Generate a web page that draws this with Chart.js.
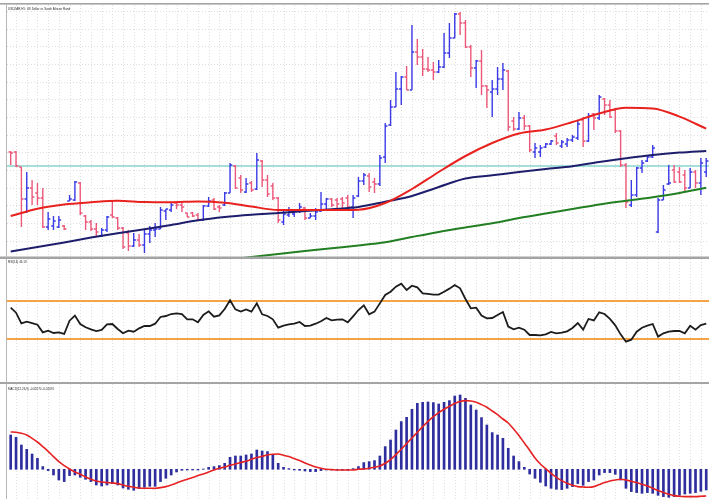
<!DOCTYPE html>
<html><head><meta charset="utf-8">
<script src="https://cdn.jsdelivr.net/npm/chart.js@4.4.1/dist/chart.umd.min.js"></script>
<style>
html,body{margin:0;padding:0;background:#fff;}
body{width:709px;height:499px;overflow:hidden;position:relative;}
canvas{position:absolute;left:0;}
</style></head><body>
<canvas id="main" width="709" height="258" style="top:0px"></canvas>
<canvas id="rsi" width="709" height="125" style="top:258px"></canvas>
<canvas id="macd" width="709" height="116" style="top:383px"></canvas>
<script>
// ---------- DATA ----------
const chartTitle = 'USDZAR,H1: US Dollar vs South African Rand';
const open = [14.48,14.48,14.33,14.01,14.12,14.07,14.02,13.73,13.74,13.73,
13.74,13.99,14.00,14.17,13.84,13.78,13.71,13.64,13.70,13.85,
13.82,13.72,13.67,13.54,13.60,13.55,13.66,13.70,13.71,13.89,
13.90,13.97,13.95,13.87,13.87,13.85,13.80,13.94,14.00,13.93,
13.95,14.07,14.34,14.22,14.08,14.17,14.11,14.39,14.20,14.14,
14.02,13.78,13.85,13.86,13.89,13.92,13.82,13.84,13.89,13.96,
14.01,14.00,14.01,14.02,13.93,14.04,14.19,14.24,14.18,14.16,
14.43,14.75,14.93,15.11,15.23,15.10,15.48,15.43,15.31,15.30,
15.28,15.33,15.47,15.62,15.86,15.77,15.53,15.32,15.39,15.14,
15.08,15.11,15.21,15.29,14.79,14.71,14.82,14.74,14.48,14.48,
14.53,14.56,14.64,14.54,14.56,14.60,14.62,14.80,14.59,14.86,
14.82,15.01,14.95,14.90,14.69,14.35,13.95,14.05,14.32,14.39,
14.43,13.68,14.00,14.16,14.30,14.28,14.25,14.12,14.28,14.17,
14.28];
const high = [14.49,14.49,14.33,14.28,14.20,14.17,14.12,13.88,13.84,13.84,
13.75,14.05,14.19,14.18,13.85,13.80,13.77,13.72,13.84,13.99,
13.83,13.73,13.70,13.67,13.66,13.70,13.74,13.77,13.93,13.91,
13.98,13.98,13.97,13.87,13.88,13.87,13.95,14.03,14.02,13.95,
14.08,14.37,14.35,14.25,14.22,14.19,14.47,14.40,14.25,14.17,
14.03,13.90,13.93,13.90,13.97,13.93,13.87,13.92,14.08,14.02,
14.02,14.02,14.03,14.05,14.05,14.23,14.27,14.27,14.22,14.45,
14.77,15.00,15.28,15.24,15.34,15.75,15.61,15.51,15.43,15.38,
15.40,15.67,15.77,15.87,15.88,15.80,15.55,15.40,15.50,15.15,
15.20,15.33,15.37,15.30,14.83,14.88,14.85,14.75,14.57,14.55,
14.57,14.60,14.67,14.60,14.62,14.65,14.79,14.83,14.87,14.87,
15.05,15.02,15.00,14.92,14.70,14.37,14.20,14.33,14.40,14.45,
14.55,14.02,14.15,14.35,14.35,14.33,14.30,14.32,14.30,14.42,
14.42];
const low = [14.35,14.33,13.73,13.87,13.95,13.95,13.72,13.70,13.70,13.72,
13.70,13.99,13.99,13.85,13.70,13.69,13.64,13.63,13.68,13.82,
13.70,13.51,13.49,13.53,13.53,13.47,13.57,13.63,13.71,13.80,
13.88,13.91,13.88,13.83,13.83,13.79,13.79,13.93,13.90,13.88,
13.94,14.07,14.11,14.07,14.07,14.08,14.10,14.13,14.03,14.00,
13.77,13.75,13.83,13.83,13.87,13.80,13.82,13.80,13.88,13.90,
13.93,13.92,13.92,13.92,13.82,14.03,14.15,14.08,14.07,14.14,
14.37,14.74,14.93,14.95,15.10,15.10,15.35,15.24,15.28,15.20,
15.27,15.32,15.42,15.62,15.65,15.52,15.23,15.12,15.05,14.92,
14.83,15.05,15.10,14.69,14.69,14.70,14.70,14.48,14.42,14.43,
14.52,14.55,14.55,14.52,14.53,14.58,14.60,14.53,14.58,14.70,
14.80,14.85,14.82,14.67,14.33,13.92,13.93,14.03,14.27,14.38,
14.42,13.67,14.00,14.15,14.17,14.17,14.08,14.12,14.12,14.05,
14.23];
const close = [14.47,14.34,14.01,14.12,14.03,14.02,13.73,13.81,13.79,13.80,
13.71,14.01,14.18,13.87,13.78,13.71,13.68,13.70,13.83,13.83,
13.72,13.53,13.54,13.60,13.55,13.66,13.70,13.71,13.90,13.91,
13.95,13.95,13.93,13.83,13.84,13.80,13.94,13.99,13.91,13.92,
14.07,14.35,14.12,14.10,14.16,14.10,14.40,14.20,14.06,14.02,
13.80,13.86,13.89,13.90,13.93,13.82,13.84,13.88,13.96,14.01,
13.95,13.96,13.97,13.93,14.02,14.19,14.25,14.13,14.16,14.42,
14.74,14.93,15.11,15.23,15.10,15.48,15.43,15.31,15.30,15.28,
15.33,15.47,15.62,15.86,15.77,15.53,15.32,15.39,15.14,15.10,
15.11,15.21,15.30,14.73,14.71,14.82,14.74,14.50,14.52,14.52,
14.56,14.59,14.57,14.58,14.60,14.63,14.76,14.59,14.84,14.82,
15.03,14.95,14.83,14.69,14.35,13.98,14.05,14.32,14.37,14.43,
14.52,14.00,14.10,14.17,14.18,14.18,14.12,14.28,14.17,14.37,
14.39];
// moving averages, read every 5 bars
const maIdx = [0,5,10,15,20,25,30,35,40,45,50,55,60,65,70,75,80,85,90,95,100,105,110,115,120,125,130];
const maRed = [13.84,13.913,13.956,13.977,13.992,13.98,13.978,13.986,13.973,13.935,13.90,13.90,13.90,13.903,13.97,14.11,14.28,14.44,14.57,14.665,14.705,14.78,14.865,14.923,14.916,14.834,14.713];
const maNavy = [13.486,13.531,13.576,13.624,13.667,13.707,13.75,13.797,13.83,13.853,13.87,13.889,13.908,13.93,13.983,14.04,14.13,14.215,14.247,14.28,14.31,14.338,14.38,14.417,14.45,14.474,14.491];
const maGreen = [13.16,13.183,13.214,13.245,13.276,13.307,13.338,13.368,13.399,13.43,13.46,13.49,13.518,13.545,13.577,13.63,13.681,13.726,13.768,13.82,13.866,13.91,13.955,13.992,14.028,14.07,14.122];
const levelPrice = 14.34;
const rsi = [63.0,57.7,46.5,48.2,46.8,45.1,37.0,38.8,36.3,37.0,
35.3,49.3,54.6,45.8,42.3,40.2,38.4,39.5,45.4,45.8,
40.5,36.0,38.8,37.7,41.2,43.7,43.7,46.1,53.2,54.2,
56.3,57.0,56.3,50.7,50.7,47.5,55.3,59.1,53.5,54.9,
61.6,70.7,61.2,58.8,61.2,58.8,67.5,56.0,54.2,50.7,
41.9,44.0,45.4,46.1,47.9,43.7,44.0,46.1,48.6,52.1,
49.6,50.4,50.7,47.5,53.9,60.5,65.4,56.0,58.8,67.5,
76.3,79.8,85.1,88.2,81.6,86.1,84.4,78.1,77.4,76.7,
76.7,79.8,83.0,86.8,83.3,72.1,62.3,63.0,54.6,51.8,
52.1,55.3,58.4,43.0,40.2,41.9,39.8,34.2,34.2,33.9,
34.9,37.4,36.0,36.7,38.1,41.6,46.8,39.8,51.1,49.6,
58.1,56.3,51.1,44.4,34.9,27.2,29.3,37.7,41.9,44.0,
45.8,32.5,36.0,37.7,38.4,38.4,36.0,44.0,39.8,44.7,
46.19];
const rsiLevels = [70, 30];
const macdMain = [0.0343,0.0320,0.0243,0.0200,0.0153,0.0110,0.0027,-0.0013,-0.0057,-0.0107,
-0.0123,-0.0063,-0.0057,-0.0080,-0.0100,-0.0123,-0.0157,-0.0167,-0.0157,-0.0143,
-0.0157,-0.0187,-0.0200,-0.0210,-0.0193,-0.0180,-0.0170,-0.0170,-0.0123,-0.0090,
-0.0057,-0.0027,-0.0010,-0.0007,-0.0007,-0.0007,0.0003,0.0020,0.0027,0.0037,
0.0060,0.0120,0.0133,0.0133,0.0143,0.0153,0.0193,0.0183,0.0177,0.0143,
0.0060,0.0020,0.0007,-0.0007,-0.0010,-0.0017,-0.0023,-0.0023,-0.0013,-0.0007,
-0.0007,-0.0007,-0.0007,-0.0007,0.0007,0.0027,0.0067,0.0077,0.0087,0.0133,
0.0227,0.0293,0.0393,0.0477,0.0520,0.0600,0.0660,0.0670,0.0673,0.0667,
0.0653,0.0670,0.0687,0.0733,0.0743,0.0710,0.0643,0.0593,0.0517,0.0443,
0.0367,0.0343,0.0310,0.0210,0.0133,0.0077,0.0020,-0.0047,-0.0090,-0.0130,
-0.0167,-0.0190,-0.0200,-0.0203,-0.0190,-0.0173,-0.0143,-0.0160,-0.0123,-0.0107,
-0.0057,-0.0033,-0.0033,-0.0050,-0.0107,-0.0190,-0.0223,-0.0233,-0.0240,-0.0233,
-0.0240,-0.0260,-0.0273,-0.0280,-0.0273,-0.0260,-0.0247,-0.0240,-0.0233,-0.0220,
-0.0207];
const macdSignal = [0.0373,0.0370,0.0360,0.0343,0.0310,0.0273,0.0227,0.0180,0.0127,0.0077,
0.0037,0.0003,-0.0027,-0.0050,-0.0077,-0.0100,-0.0117,-0.0127,-0.0133,-0.0137,
-0.0143,-0.0157,-0.0170,-0.0180,-0.0187,-0.0190,-0.0190,-0.0190,-0.0183,-0.0173,
-0.0157,-0.0137,-0.0117,-0.0100,-0.0083,-0.0063,-0.0047,-0.0027,-0.0007,0.0010,
0.0023,0.0040,0.0053,0.0067,0.0080,0.0100,0.0117,0.0130,0.0143,0.0150,
0.0153,0.0140,0.0127,0.0107,0.0087,0.0063,0.0043,0.0023,0.0010,0.0000,
-0.0003,-0.0007,-0.0007,-0.0007,-0.0007,0.0000,0.0003,0.0010,0.0020,0.0033,
0.0060,0.0097,0.0147,0.0200,0.0257,0.0313,0.0370,0.0427,0.0480,0.0527,
0.0567,0.0600,0.0630,0.0657,0.0677,0.0687,0.0683,0.0670,0.0647,0.0620,
0.0583,0.0547,0.0503,0.0463,0.0403,0.0337,0.0263,0.0190,0.0113,0.0053,
0.0007,-0.0040,-0.0080,-0.0113,-0.0140,-0.0160,-0.0173,-0.0177,-0.0180,-0.0173,
-0.0153,-0.0133,-0.0117,-0.0107,-0.0100,-0.0107,-0.0120,-0.0133,-0.0150,-0.0167,
-0.0190,-0.0213,-0.0233,-0.0250,-0.0263,-0.0270,-0.0273,-0.0273,-0.0273,-0.0270,
-0.0267];

// ---------- BUILD ----------
const N = close.length;
const upSeg = [], dnSeg = [];
for (let i = 0; i < N; i++) {
  const s = close[i] >= open[i] ? upSeg : dnSeg;
  s.push({x:i,y:low[i]},{x:i,y:high[i]},{x:i,y:null},
         {x:i-0.42,y:open[i]},{x:i,y:open[i]},{x:i,y:null},
         {x:i,y:close[i]},{x:i+0.42,y:close[i]},{x:i,y:null});
}
const ma = arr => maIdx.map((x,k) => ({x, y: arr[k]}));
const series = arr => arr.map((y,i) => ({x:i, y}));

const X_MIN = -0.69, X_MAX = 130.52;
const FONT = '3px "Liberation Sans", Arial, sans-serif';

function deco(opts) {
  return {
    id: 'deco',
    beforeDatasetsDraw(chart) {
      const {ctx, chartArea: a, scales: {x, y}} = chart;
      ctx.save();
      ctx.strokeStyle = '#dedede'; ctx.lineWidth = 1; ctx.setLineDash([1, 2]);
      for (let i = 1; i <= N; i += 2) {
        const px = Math.round(x.getPixelForValue(i)) + 0.5;
        if (px < a.left || px > a.right) continue;
        ctx.beginPath(); ctx.moveTo(px, a.top); ctx.lineTo(px, a.bottom); ctx.stroke();
      }
      if (opts.hGrid) {
        for (let v = opts.hGrid[0]; v > y.min; v -= opts.hGrid[1]) {
          const py = Math.round(y.getPixelForValue(v)) + 0.5;
          ctx.beginPath(); ctx.moveTo(a.left, py); ctx.lineTo(a.right, py); ctx.stroke();
        }
      }
      ctx.restore();
    },
    afterDraw(chart) {
      const {ctx, width, height} = chart;
      ctx.save();
      ctx.fillStyle = '#a4a4a4';
      (opts.hLines || []).forEach(([yy, h]) => ctx.fillRect(0, yy, width, h));
      ctx.fillStyle = '#b8b8b8';
      ctx.fillRect(6, opts.leftTop, 1, height - opts.leftTop);
      ctx.fillStyle = '#2a2a2a';
      ctx.font = FONT;
      ctx.textBaseline = 'alphabetic';
      ctx.fillText(opts.label, 8, opts.labelY);
      ctx.restore();
    }
  };
}

const baseOpts = (pad, yMin, yMax) => ({
  responsive: false, animation: false, events: [],
  layout: {padding: pad},
  plugins: {legend: {display: false}, tooltip: {enabled: false}},
  elements: {point: {radius: 0}, line: {borderCapStyle: 'butt', borderJoinStyle: 'miter'}},
  scales: {
    x: {type: 'linear', min: X_MIN, max: X_MAX, display: false, offset: false},
    y: {type: 'linear', min: yMin, max: yMax, display: false}
  }
});

// main price panel
new Chart(document.getElementById('main'), {
  type: 'line',
  data: {datasets: [
    {data: ma(maRed), borderColor: '#e8221e', borderWidth: 2, tension: 0.4, cubicInterpolationMode: 'monotone', order: 1},
    {data: ma(maNavy), borderColor: '#1e1e6c', borderWidth: 2, tension: 0.4, cubicInterpolationMode: 'monotone', order: 2},
    {data: ma(maGreen), borderColor: '#237f23', borderWidth: 2, tension: 0.4, cubicInterpolationMode: 'monotone', order: 3},
    {data: upSeg, borderColor: '#3a3ae6', borderWidth: 1.4, tension: 0, spanGaps: false, order: 5},
    {data: dnSeg, borderColor: '#ec587a', borderWidth: 1.4, tension: 0, spanGaps: false, order: 6},
    {data: [{x: X_MIN - 1, y: levelPrice}, {x: X_MAX + 1, y: levelPrice}], borderColor: '#86d6cc', borderWidth: 1.6, order: 9}
  ]},
  options: baseOpts({left: 7, right: 0, top: 5, bottom: 1}, 13.43, 15.95),
  plugins: [deco({label: chartTitle, labelY: 10.3, hGrid: [15.89, 0.1767], hLines: [[3, 1.6], [256.5, 1.5]], leftTop: 4})]
});

// RSI panel
new Chart(document.getElementById('rsi'), {
  type: 'line',
  data: {datasets: [
    {data: series(rsi), borderColor: '#1c1c1c', borderWidth: 1.8, tension: 0, order: 1},
    ...rsiLevels.map(v => ({data: [{x: X_MIN - 1, y: v}, {x: X_MAX + 1, y: v}], borderColor: '#f4a446', borderWidth: 2, order: 5}))
  ]},
  options: baseOpts({left: 7, right: 0, top: 1, bottom: 1}, -15.26, 114.2),
  plugins: [deco({label: 'RSI(14) ' + rsi[N - 1].toFixed(2), labelY: 4.6, hLines: [[0, 1], [124, 1]], leftTop: 1})]
});

// MACD panel
new Chart(document.getElementById('macd'), {
  type: 'bar',
  data: {datasets: [
    {type: 'line', data: series(macdSignal), borderColor: '#e62222', borderWidth: 1.6, tension: 0.3, order: 1},
    {type: 'bar', data: series(macdMain), backgroundColor: '#2e2e9e', barThickness: 2, order: 2}
  ]},
  options: baseOpts({left: 7, right: 0, top: 1, bottom: 0}, -0.0297, 0.0853),
  plugins: [deco({label: 'MACD(12,26,9) ' + macdMain[N - 1].toFixed(5) + ' ' + macdSignal[N - 1].toFixed(5), labelY: 7, hLines: [[0, 1]], leftTop: 1})]
});
</script>
</body></html>
